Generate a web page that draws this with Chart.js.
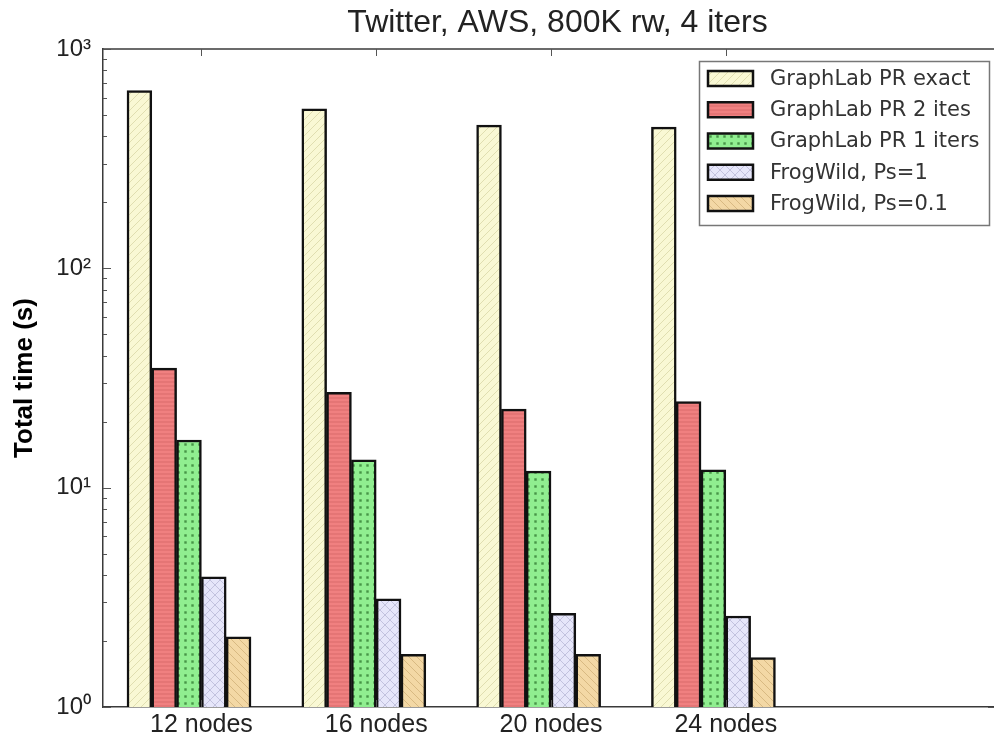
<!DOCTYPE html>
<html>
<head>
<meta charset="utf-8">
<script src="https://cdn.jsdelivr.net/npm/chart.js@4/dist/chart.umd.min.js"></script>
<style>
html, body { margin: 0; padding: 0; background: #fff; overflow: hidden; }
canvas { display: block; }
</style>
</head>
<body>
<canvas id="c" width="994" height="742"></canvas>
<script>
// ---- data ----
const categories = ['12 nodes', '16 nodes', '20 nodes', '24 nodes'];
const seriesNames = ['GraphLab PR exact', 'GraphLab PR 2 ites', 'GraphLab PR 1 iters', 'FrogWild, Ps=1', 'FrogWild, Ps=0.1'];
const prExact  = [647, 533, 450, 440];
const pr2Iters = [35.1, 27.2, 22.8, 24.7];
const pr1Iter  = [16.5, 13.4, 11.9, 12.05];
const fwPs1    = [3.92, 3.11, 2.67, 2.60];
const fwPs01   = [2.09, 1.74, 1.74, 1.68];
const yTickValues = [1,2,3,4,5,6,7,8,9,10,20,30,40,50,60,70,80,90,100,200,300,400,500,600,700,800,900,1000];
const supers = {0:'\u2070',1:'\u00B9',2:'\u00B2',3:'\u00B3'};

// ---- styles ----
function hatch(bg, line, kind, s) {
  const c = document.createElement('canvas');
  c.width = s; c.height = s;
  const g = c.getContext('2d');
  g.fillStyle = bg; g.fillRect(0, 0, s, s);
  g.strokeStyle = line; g.fillStyle = line; g.lineWidth = 1;
  g.beginPath();
  if (kind === '/' || kind === 'x') {
    g.moveTo(0, s); g.lineTo(s, 0);
    g.moveTo(-1, 1); g.lineTo(1, -1);
    g.moveTo(s - 1, s + 1); g.lineTo(s + 1, s - 1);
  }
  if (kind === '\\' || kind === 'x') {
    g.moveTo(0, 0); g.lineTo(s, s);
    g.moveTo(-1, s - 1); g.lineTo(1, s + 1);
    g.moveTo(s - 1, -1); g.lineTo(s + 1, 1);
  }
  if (kind === '-') { g.moveTo(0, s / 2); g.lineTo(s, s / 2); }
  g.stroke();
  if (kind === '.') { g.fillRect(s / 2 - 1.2, s / 2 - 1.2, 2.4, 2.4); }
  return g.createPattern(c, 'repeat');
}
const fills = [
  hatch('#F9F8D4', '#e0deb0', '/', 8),
  hatch('#F08080', '#d96a6a', '-', 4),
  hatch('#90EE90', '#479447', '.', 7),
  hatch('#E6E6FA', '#c2c2de', 'x', 10),
  hatch('#F3D8A5', '#d8b982', '\\', 8)
];
const values = [prExact, pr2Iters, pr1Iter, fwPs1, fwPs01];
const TICK_SHIFT = 0.071;
const SPINE = '#3a3a3a';
const TITLE_SHIFT = 9;

const extras = {
  id: 'extras',
  afterLayout(chart) {
    if (chart.titleBlock) {
      chart.titleBlock.left += TITLE_SHIFT;
      chart.titleBlock.right += TITLE_SHIFT;
    }
  },
  afterDraw(chart) {
    const ctx = chart.ctx, a = chart.chartArea;
    const xs = chart.scales.x, ys = chart.scales.y;
    ctx.save();
    // right edge: axes continue beyond the picture, no right spine
    ctx.fillStyle = '#fff';
    ctx.fillRect(a.right - 5, a.top + 1, 10, a.bottom - a.top - 2);
    // top spine
    ctx.strokeStyle = SPINE; ctx.lineWidth = 1.5;
    ctx.beginPath(); ctx.moveTo(a.left, a.top); ctx.lineTo(a.right + 5, a.top); ctx.stroke();
    ctx.beginPath(); ctx.moveTo(a.right - 6, a.bottom); ctx.lineTo(a.right + 5, a.bottom); ctx.stroke();
    // y ticks (inward)
    ctx.lineWidth = 1; ctx.strokeStyle = '#555';
    ys.ticks.forEach(t => {
      const y = Math.round(ys.getPixelForValue(t.value)) + 0.5;
      const major = Math.abs(Math.log10(t.value) - Math.round(Math.log10(t.value))) < 1e-9;
      const len = major ? 8 : 4;
      ctx.beginPath(); ctx.moveTo(a.left, y); ctx.lineTo(a.left + len, y); ctx.stroke();
    });
    // x ticks (inward, top & bottom)
    xs.ticks.forEach(t => {
      const x = Math.round(xs.getPixelForValue(t.value)) + 0.5;
      ctx.beginPath(); ctx.moveTo(x, a.top); ctx.lineTo(x, a.top + 7); ctx.stroke();
      ctx.beginPath(); ctx.moveTo(x, a.bottom); ctx.lineTo(x, a.bottom - 7); ctx.stroke();
    });
    // legend
    const L = 699.5, T = 61.5, R = 989.5, B = 225.5;
    ctx.fillStyle = '#fff'; ctx.fillRect(L, T, R - L, B - T);
    ctx.strokeStyle = '#777'; ctx.lineWidth = 1.5;
    ctx.strokeRect(L, T, R - L, B - T);
    ctx.font = '21px "DejaVu Sans"';
    ctx.textBaseline = 'middle'; ctx.textAlign = 'left';
    chart.data.datasets.forEach((ds, i) => {
      const cy = 78.5 + 31.25 * i;
      ctx.fillStyle = ds.backgroundColor;
      ctx.fillRect(708, cy - 7.5, 45, 15);
      ctx.strokeStyle = '#111'; ctx.lineWidth = 2.5;
      ctx.strokeRect(708, cy - 7.5, 45, 15);
      ctx.fillStyle = '#333';
      ctx.fillText(ds.label, 770, cy + 1);
    });
    ctx.restore();
  }
};

new Chart(document.getElementById('c'), {
  type: 'bar',
  data: {
    datasets: seriesNames.map((name, k) => ({
      label: name,
      data: values[k].map((v, i) => ({ x: i, y: v })),
      backgroundColor: fills[k],
      borderColor: '#111',
      borderWidth: 2.5,
      barThickness: 24.8
    }))
  },
  options: {
    responsive: false,
    devicePixelRatio: 1,
    animation: false,
    layout: { padding: 0 },
    plugins: {
      legend: { display: false },
      tooltip: { enabled: false },
      title: {
        display: true,
        fullSize: false,
        text: 'Twitter, AWS, 800K rw, 4 iters',
        color: '#222',
        font: { family: '"Liberation Sans", Arial, sans-serif', size: 32, weight: 'normal', lineHeight: 1.2 },
        padding: { top: 4, bottom: 6.6 }
      }
    },
    scales: {
      x: {
        type: 'linear',
        min: -0.492,
        max: 4.605,
        offset: false,
        grid: { display: false, drawTicks: false },
        border: { display: true, color: SPINE, width: 1.5 },
        afterBuildTicks: s => { s.ticks = categories.map((c, i) => ({ value: i + TICK_SHIFT })); },
        afterFit: s => { s.height = 35; },
        ticks: {
          autoSkip: false,
          maxRotation: 0,
          padding: 3,
          color: '#222',
          font: { family: '"Liberation Sans", Arial, sans-serif', size: 25 },
          callback: (v, i) => categories[i]
        }
      },
      y: {
        type: 'logarithmic',
        min: 1,
        max: 1000,
        grid: { display: false, drawTicks: false },
        border: { display: true, color: SPINE, width: 1.5 },
        afterBuildTicks: s => { s.ticks = yTickValues.map(v => ({ value: v })); },
        afterFit: s => { s.width = 103; },
        ticks: {
          autoSkip: false,
          padding: 12,
          color: '#222',
          font: { family: '"Liberation Sans", Arial, sans-serif', size: 24 },
          callback: v => {
            const e = Math.log10(v);
            return Math.abs(e - Math.round(e)) < 1e-9 ? '10' + supers[Math.round(e)] : '';
          }
        },
        title: {
          display: true,
          text: 'Total time (s)',
          color: '#000',
          font: { family: '"Liberation Sans", Arial, sans-serif', size: 26, weight: 'bold', lineHeight: 1.2 },
          padding: { top: 9, bottom: 0 }
        }
      }
    }
  },
  plugins: [extras]
});
</script>
</body>
</html>
